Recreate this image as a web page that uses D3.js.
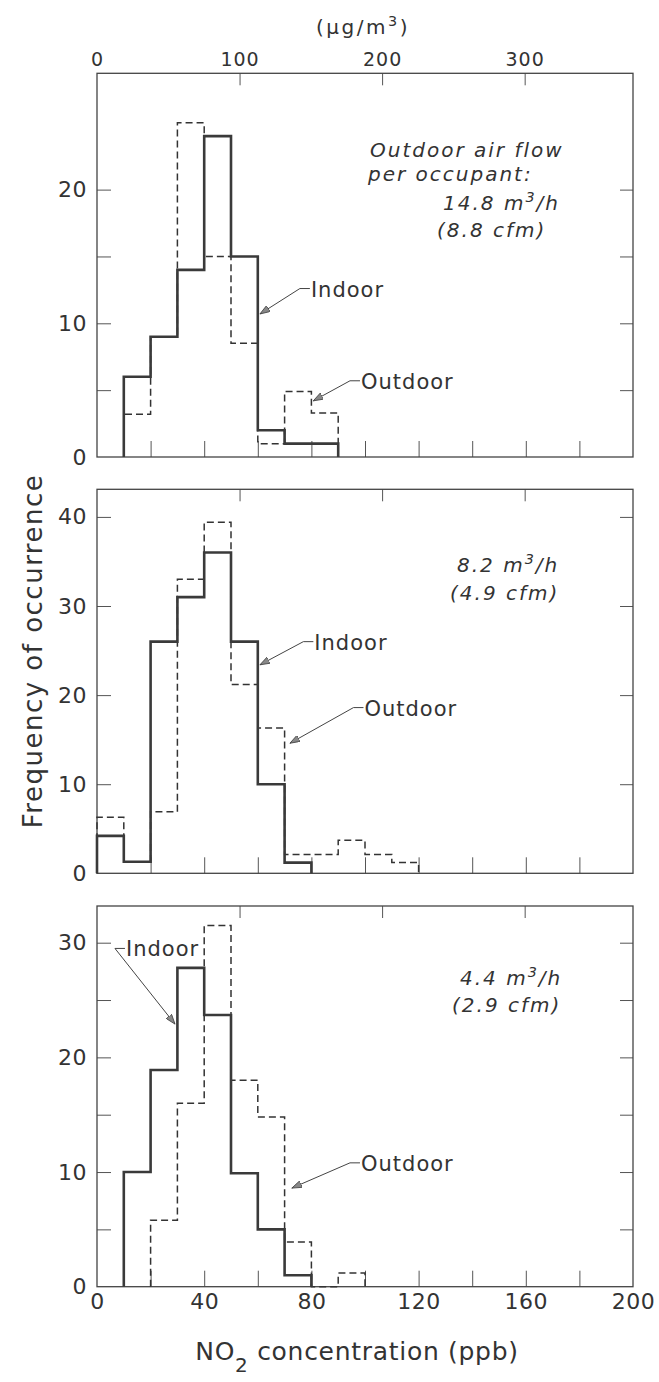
<!DOCTYPE html>
<html>
<head>
<meta charset="utf-8">
<script src="https://cdn.jsdelivr.net/npm/d3@7"></script>
<style>
    body { margin: 0; background: #fff; }
    svg text { font-family: "DejaVu Sans", sans-serif; fill: #333; }
</style>
</head>
<body>
<div id="grafico"></div>
<script>
// histogram bins are 10 ppb wide
var binWidth = 10;

// panel 1: 14.8 m3/h
var indoorStart1 = 10;
var indoor1 = [6, 9, 14, 24, 15, 2, 1, 1];
var outdoorStart1 = 10;
var outdoor1 = [3.2, 9, 25, 15, 8.5, 1, 4.9, 3.3];

// panel 2: 8.2 m3/h
var indoorStart2 = 0;
var indoor2 = [4.2, 1.3, 26, 31, 36, 26, 10, 1.2];
var outdoorStart2 = 0;
var outdoor2 = [6.3, 1.3, 6.9, 33, 39.4, 21.2, 16.3, 2.1, 2.1, 3.7, 2.1, 1.2];

// panel 3: 4.4 m3/h
var indoorStart3 = 10;
var indoor3 = [10, 18.9, 27.8, 23.7, 9.9, 5, 1];
var outdoorStart3 = 20;
var outdoor3 = [5.8, 16, 31.5, 18, 14.8, 3.9, 0, 1.2];

var yMax = [28.7, 43.1, 33.2];
var yTicks = [[5, 10, 15, 20], [10, 20, 30, 40], [5, 10, 15, 20, 25, 30]];
var yLabels = [[0, 10, 20], [0, 10, 20, 30, 40], [0, 10, 20, 30]];
var ppbTicks = [20, 40, 60, 80, 100, 120, 140, 160, 180];
var ppbLabels = [0, 40, 80, 120, 160, 200];
var ugTicks = [100, 200, 300];
var ugLabels = [0, 100, 200, 300];
var ugPorPpb = 1.88;

var notas = [
    ["Outdoor air flow", "per occupant:", "14.8 m^3/h", "(8.8 cfm)"],
    ["8.2 m^3/h", "(4.9 cfm)"],
    ["4.4 m^3/h", "(2.9 cfm)"]
];

var paneles = [
    {indoorStart: indoorStart1, indoor: indoor1, outdoorStart: outdoorStart1, outdoor: outdoor1},
    {indoorStart: indoorStart2, indoor: indoor2, outdoorStart: outdoorStart2, outdoor: outdoor2},
    {indoorStart: indoorStart3, indoor: indoor3, outdoorStart: outdoorStart3, outdoor: outdoor3}
];

// layout
var W = 659, H = 1382;
var left = 97, right = 633;
var tops = [73.3, 489.3, 906];
var bottoms = [457, 873.3, 1286.7];
// leader lines (data units of each panel): arrow tip and elbow next to the word
var flechaIndoor = [{tip: [60.8, 10.7], codo: [75.7, 12.6]}, {tip: [60.8, 23.4], codo: [77, 26]}, {tip: [29.1, 22.9], codo: [6.7, 29.5]}];
var flechaOutdoor = [{tip: [80.7, 4.2], codo: [94.4, 5.7]}, {tip: [72, 14.6], codo: [95.7, 18.6]}, {tip: [72.7, 8.6], codo: [94.4, 10.8]}];
var notaPos = [
    [[370, 157], [368, 181], [443, 210], [437, 237]],
    [[457, 572], [450, 600]],
    [[460, 985], [452, 1012]]
];

var svg = d3.select("#grafico").append("svg")
        .attr("width", W)
        .attr("height", H);

svg.append("defs").append("marker")
        .attr("id", "punta")
        .attr("markerUnits", "userSpaceOnUse")
        .attr("markerWidth", 11)
        .attr("markerHeight", 7)
        .attr("refX", 10)
        .attr("refY", 3.5)
        .attr("orient", "auto")
        .append("path")
        .attr("d", "M0,0 L10,3.5 L0,7 Z")
        .attr("fill", "#888")
        .attr("stroke", "#444")
        .attr("stroke-width", 0.8);

var x = d3.scaleLinear().domain([0, 200]).range([left, right]);
var xug = d3.scaleLinear().domain([0, 200 * ugPorPpb]).range([left, right]);

function contorno(start, values) {
    var pts = [[start, 0]];
    values.forEach(function (v, i) {
        pts.push([start + i * binWidth, v]);
        pts.push([start + (i + 1) * binWidth, v]);
    });
    pts.push([start + values.length * binWidth, 0]);
    return pts;
}

function ponerTexto(sel, s) {
    var partes = s.split("^3");
    sel.append("tspan").text(partes[0]);
    if (partes.length > 1) {
        sel.append("tspan").attr("baseline-shift", "super").attr("font-size", "0.72em").text("3");
        sel.append("tspan").text(partes[1]);
    }
}

function estiloTexto(a, size, ls) {
    a.select(".domain").remove();
    a.selectAll("text")
            .attr("font-size", size)
            .attr("font-family", null)
            .attr("letter-spacing", ls)
            .attr("fill", "#333");
}

paneles.forEach(function (p, k) {
    var y = d3.scaleLinear().domain([0, yMax[k]]).range([bottoms[k], tops[k]]);
    var g = svg.append("g");

    var line = d3.line()
            .x(function (d) {
                return x(d[0]);
            })
            .y(function (d) {
                return y(d[1]);
            });

    // ticks (inward)
    g.append("g")
            .attr("transform", "translate(0," + bottoms[k] + ")")
            .call(d3.axisBottom(x).tickValues(ppbTicks).tickSize(-16).tickFormat(""))
            .call(function (a) { a.select(".domain").remove(); });
    g.append("g")
            .attr("transform", "translate(0," + tops[k] + ")")
            .call(d3.axisTop(xug).tickValues(ugTicks).tickSize(-12).tickFormat(""))
            .call(function (a) { a.select(".domain").remove(); });
    g.append("g")
            .attr("transform", "translate(" + left + ",0)")
            .call(d3.axisLeft(y).tickValues(yTicks[k]).tickSize(-14).tickFormat(""))
            .call(function (a) { a.select(".domain").remove(); });
    g.append("g")
            .attr("transform", "translate(" + right + ",0)")
            .call(d3.axisRight(y).tickValues(yTicks[k]).tickSize(-13).tickFormat(""))
            .call(function (a) { a.select(".domain").remove(); });
    g.selectAll(".tick line").attr("stroke", "#555").attr("stroke-width", 1);

    // y labels
    g.append("g")
            .attr("transform", "translate(" + left + ",0)")
            .call(d3.axisLeft(y).tickValues(yLabels[k]).tickSize(0).tickPadding(10).tickFormat(d3.format("d")))
            .call(estiloTexto, 22, 0.5);

    // frame
    g.append("rect")
            .attr("x", left)
            .attr("y", tops[k])
            .attr("width", right - left)
            .attr("height", bottoms[k] - tops[k])
            .attr("fill", "none")
            .attr("stroke", "#444")
            .attr("stroke-width", 1.3);

    // outdoor (dashed) then indoor (solid)
    g.append("path")
            .datum(contorno(p.outdoorStart, p.outdoor))
            .attr("fill", "none")
            .attr("stroke", "#333")
            .attr("stroke-width", 1.5)
            .attr("stroke-dasharray", "7,4")
            .attr("d", line);
    g.append("path")
            .datum(contorno(p.indoorStart, p.indoor))
            .attr("fill", "none")
            .attr("stroke", "#3a3a3a")
            .attr("stroke-width", 2.6)
            .attr("d", line);

    // leaders
    [["Indoor", flechaIndoor[k]], ["Outdoor", flechaOutdoor[k]]].forEach(function (f) {
        var cx = x(f[1].codo[0]), cy = y(f[1].codo[1]);
        g.append("path")
                .attr("d", "M" + (cx + 10) + "," + cy + "L" + cx + "," + cy + "L" + x(f[1].tip[0]) + "," + y(f[1].tip[1]))
                .attr("fill", "none")
                .attr("stroke", "#444")
                .attr("stroke-width", 1)
                .attr("marker-end", "url(#punta)");
        g.append("text")
                .attr("x", cx + 11)
                .attr("y", cy + 8)
                .attr("font-size", 21)
                .attr("letter-spacing", 1)
                .text(f[0]);
    });

    // notes
    notas[k].forEach(function (s, i) {
        var t = g.append("text")
                .attr("x", notaPos[k][i][0])
                .attr("y", notaPos[k][i][1])
                .attr("font-size", 20)
                .attr("font-style", "italic")
                .attr("letter-spacing", 2);
        ponerTexto(t, s);
    });

    if (k === 0) {
        svg.append("g")
                .attr("transform", "translate(0," + tops[k] + ")")
                .call(d3.axisTop(xug).tickValues(ugLabels).tickSize(0).tickPadding(7))
                .call(estiloTexto, 19, 1);
    }
    if (k === 2) {
        svg.append("g")
                .attr("transform", "translate(0," + bottoms[k] + ")")
                .call(d3.axisBottom(x).tickValues(ppbLabels).tickSize(0).tickPadding(7))
                .call(estiloTexto, 22, 0.5);
    }
});

// axis titles
var ug = svg.append("text")
        .attr("x", 363)
        .attr("y", 34)
        .attr("text-anchor", "middle")
        .attr("font-size", 20)
        .attr("letter-spacing", 2.5);
ponerTexto(ug, "(\u03bcg/m^3)");

svg.append("text")
        .attr("transform", "translate(42,651) rotate(-90)")
        .attr("text-anchor", "middle")
        .attr("font-size", 26)
        .attr("letter-spacing", 1.5)
        .text("Frequency of occurrence");

var xt = svg.append("text")
        .attr("x", 357)
        .attr("y", 1360)
        .attr("text-anchor", "middle")
        .attr("font-size", 25)
        .attr("letter-spacing", 0.7);
xt.append("tspan").text("NO");
xt.append("tspan").attr("baseline-shift", "sub").attr("font-size", "0.8em").text("2");
xt.append("tspan").text(" concentration (ppb)");
</script>
</body>
</html>
